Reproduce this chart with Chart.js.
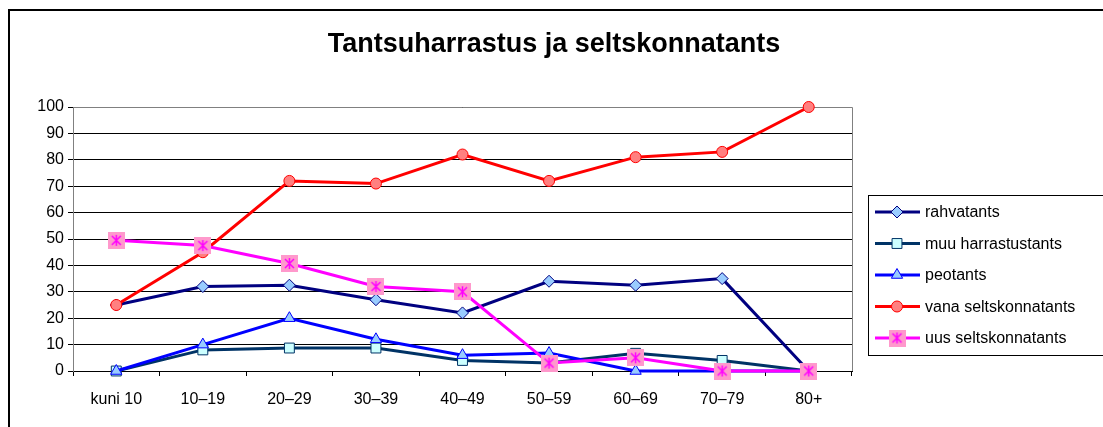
<!DOCTYPE html>
<html>
<head>
<meta charset="utf-8">
<script src="https://cdn.jsdelivr.net/npm/chart.js@4"></script>
<style>
html,body{margin:0;padding:0;background:#fff;}
#wrap{width:1103px;height:427px;position:relative;}
</style>
</head>
<body>
<div id="wrap"><canvas id="c" width="1103" height="427"></canvas></div>
<script>
const categories = ['kuni 10', '10–19', '20–29', '30–39', '40–49', '50–59', '60–69', '70–79', '80+'];
const seriesNames = ['rahvatants', 'muu harrastustants', 'peotants', 'vana seltskonnatants', 'uus seltskonnatants'];
const rahvatants = [25, 32, 32.5, 27, 22, 34, 32.5, 35, 0];
const muuHarrastustants = [0, 8, 8.7, 8.7, 4, 3, 6.7, 4, 0];
const peotants = [0, 10, 20, 12, 6, 6.8, 0, 0, 0];
const vanaSeltskonnatants = [25, 45, 72, 71, 82, 72, 81, 83, 100];
const uusSeltskonnatants = [49.5, 47.5, 40.7, 32, 30, 3, 5, 0, 0];
const yTicks = [0, 10, 20, 30, 40, 50, 60, 70, 80, 90, 100];
const titleText = 'Tantsuharrastus ja seltskonnatants';

// custom marker: pink square with magenta asterisk
function makeStar(size){
  const cv = document.createElement('canvas');
  cv.width = size; cv.height = size;
  const g = cv.getContext('2d');
  g.fillStyle = '#FF99CC';
  g.fillRect(0, 0, size, size);
  g.strokeStyle = '#FF00FF';
  g.lineWidth = 1.5;
  const c = size / 2, r = size * 0.33;
  g.beginPath();
  g.moveTo(c, c - r); g.lineTo(c, c + r);
  g.moveTo(c - r * 0.8, c - r * 0.8); g.lineTo(c + r * 0.8, c + r * 0.8);
  g.moveTo(c + r * 0.8, c - r * 0.8); g.lineTo(c - r * 0.8, c + r * 0.8);
  g.stroke();
  return cv;
}
const starImg = makeStar(17);

const FONT = '"Liberation Sans", Arial, sans-serif';

const datasets = [
  {label: seriesNames[0], data: rahvatants, borderColor: '#000080', backgroundColor: '#99CCFF', pointBorderColor: '#000080', pointBackgroundColor: '#99CCFF', pointStyle: 'rectRot', pointRadius: 6, order: 5},
  {label: seriesNames[1], data: muuHarrastustants, borderColor: '#003366', backgroundColor: '#CCFFFF', pointBorderColor: '#003366', pointBackgroundColor: '#CCFFFF', pointStyle: 'rect', pointRadius: 7, order: 4},
  {label: seriesNames[2], data: peotants, borderColor: '#0000FF', backgroundColor: '#99CCFF', pointBorderColor: '#0000FF', pointBackgroundColor: '#99CCFF', pointStyle: 'triangle', pointRadius: 6.5, order: 3},
  {label: seriesNames[3], data: vanaSeltskonnatants, borderColor: '#FF0000', backgroundColor: '#FF8080', pointBorderColor: '#FF0000', pointBackgroundColor: '#FF8080', pointStyle: 'circle', pointRadius: 5.5, order: 2},
  {label: seriesNames[4], data: uusSeltskonnatants, borderColor: '#FF00FF', backgroundColor: '#FF99CC', pointBorderColor: '#FF00FF', pointBackgroundColor: '#FF99CC', pointStyle: starImg, pointRadius: 8.5, order: 1}
];
datasets.forEach(d => { d.borderWidth = 3; d.pointBorderWidth = 1; d.tension = 0; d.fill = false; d.clip = false; d.pointHoverRadius = d.pointRadius; });

const decor = {
  id: 'decor',
  beforeDraw(chart){
    const ctx = chart.ctx;
    ctx.save();
    ctx.fillStyle = '#fff';
    ctx.fillRect(0, 0, chart.width, chart.height);
    ctx.strokeStyle = '#000';
    ctx.lineWidth = 2;
    ctx.beginPath();
    ctx.moveTo(9, chart.height + 2); ctx.lineTo(9, 10); ctx.lineTo(chart.width + 2, 10);
    ctx.stroke();
    ctx.restore();
  },
  beforeDatasetsDraw(chart){
    const ctx = chart.ctx, a = chart.chartArea;
    ctx.save();
    ctx.strokeStyle = '#808080';
    ctx.lineWidth = 1;
    ctx.beginPath();
    ctx.moveTo(a.left, Math.round(a.top) + 0.5);
    ctx.lineTo(Math.round(a.right) + 0.5, Math.round(a.top) + 0.5);
    ctx.lineTo(Math.round(a.right) + 0.5, a.bottom);
    ctx.stroke();
    ctx.restore();
  },
  afterDraw(chart){
    const ctx = chart.ctx;
    ctx.save();
    ctx.fillStyle = '#000';
    ctx.font = 'bold 27px ' + FONT;
    ctx.textAlign = 'center';
    ctx.textBaseline = 'middle';
    ctx.fillText(titleText, 554, 45);
    ctx.strokeStyle = '#000';
    ctx.lineWidth = 1;
    ctx.strokeRect(868.5, 195.5, 260, 160);
    const y0 = 212, dy = 31.5;
    chart.data.datasets.forEach((ds, i) => {
      const y = y0 + i * dy;
      ctx.strokeStyle = ds.borderColor;
      ctx.lineWidth = 3;
      ctx.beginPath();
      ctx.moveTo(875, y); ctx.lineTo(920, y);
      ctx.stroke();
      ctx.fillStyle = ds.pointBackgroundColor;
      ctx.strokeStyle = ds.pointBorderColor;
      ctx.lineWidth = 1;
      Chart.helpers.drawPoint(ctx, {pointStyle: ds.pointStyle, radius: ds.pointRadius, rotation: 0, borderWidth: 1}, 897, y);
      ctx.fillStyle = '#000';
      ctx.font = '16px ' + FONT;
      ctx.textAlign = 'left';
      ctx.textBaseline = 'middle';
      ctx.fillText(ds.label, 925, y + 1);
    });
    ctx.restore();
  }
};

new Chart(document.getElementById('c'), {
  type: 'line',
  data: {labels: categories, datasets: datasets},
  options: {
    responsive: false,
    animation: false,
    events: [],
    layout: {padding: {left: 10, right: 251, top: 107, bottom: 16}},
    plugins: {legend: {display: false}, title: {display: false}, tooltip: {enabled: false}},
    scales: {
      x: {
        type: 'category',
        offset: true,
        grid: {display: true, drawOnChartArea: false, drawTicks: true, tickLength: 5, color: '#000', offset: true},
        border: {display: true, color: '#000', width: 1},
        ticks: {color: '#000', font: {family: FONT, size: 16}, padding: 14, maxRotation: 0, autoSkip: false},
        afterFit(s){ s.height = 40; }
      },
      y: {
        min: 0, max: 100,
        afterBuildTicks(s){ s.ticks = yTicks.map(v => ({value: v})); },
        grid: {display: true, color: '#000', lineWidth: 1, tickLength: 5, drawTicks: true},
        border: {display: true, color: '#808080', width: 1},
        ticks: {color: '#000', font: {family: FONT, size: 16}, padding: 4},
        afterFit(s){ s.width = 63; }
      }
    }
  },
  plugins: [decor]
});
</script>
</body>
</html>
